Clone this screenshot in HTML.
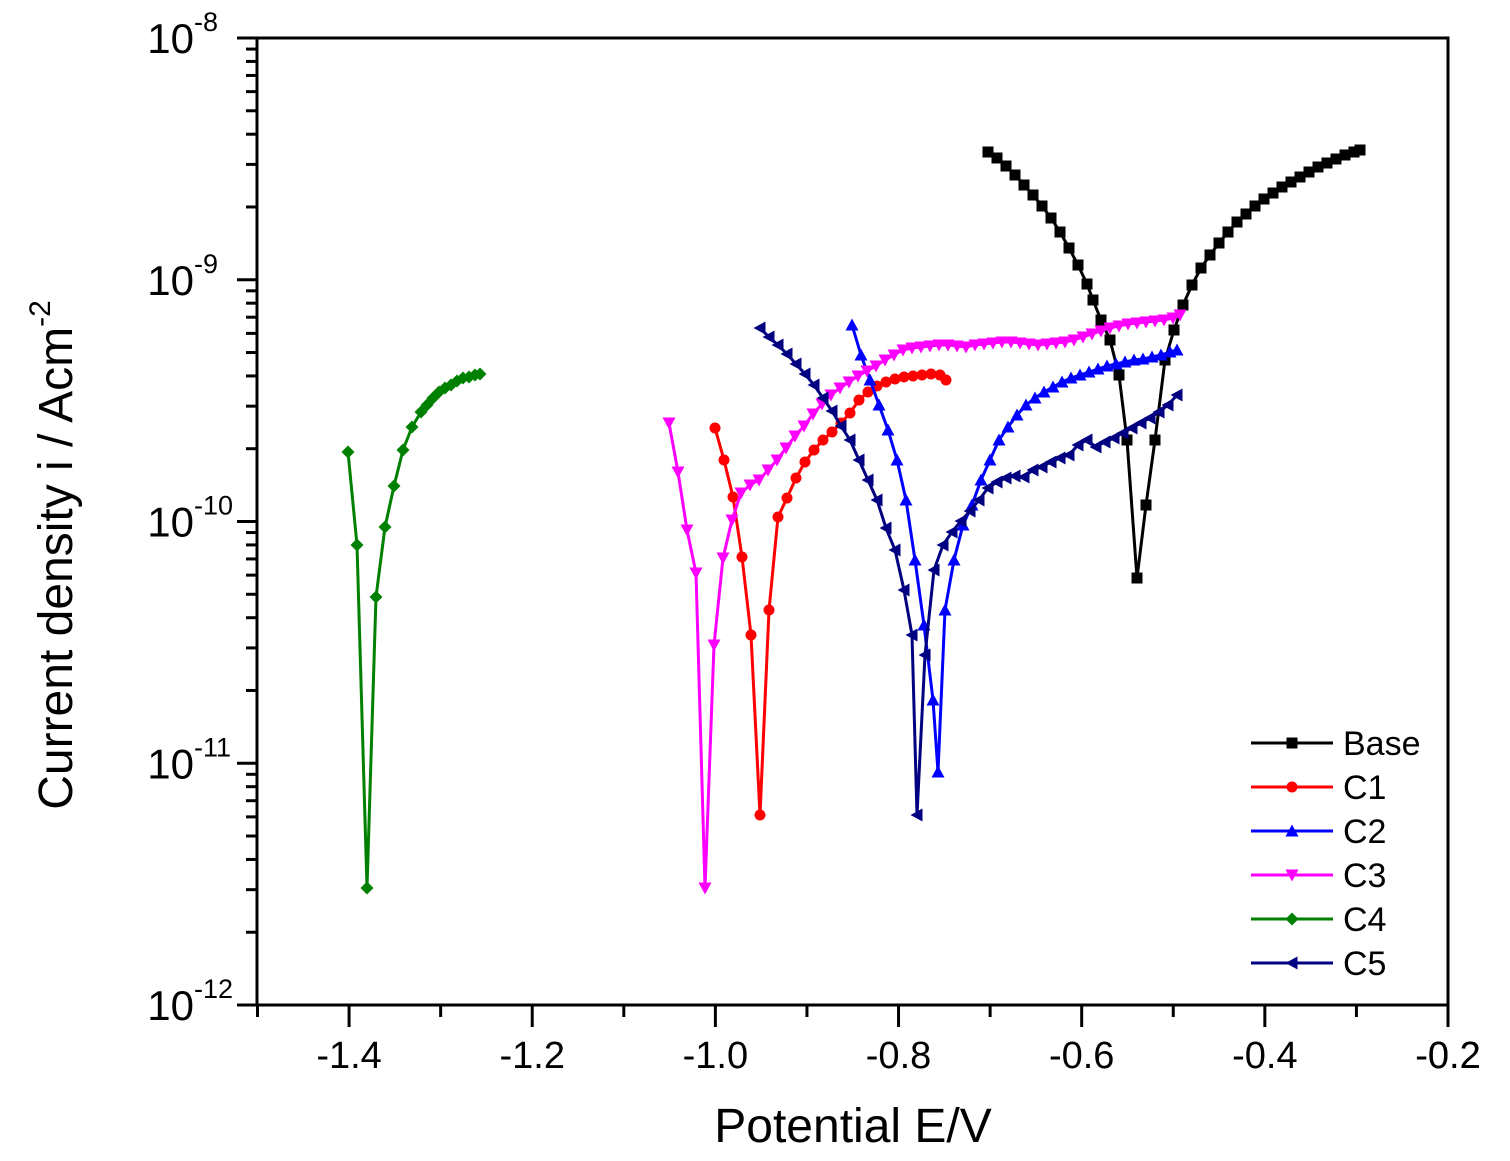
<!DOCTYPE html>
<html><head><meta charset="utf-8"><style>
html,body{margin:0;padding:0;background:#fff;}
svg{display:block;font-family:"Liberation Sans",Arial,sans-serif;}
</style></head><body>
<svg id="s" width="1510" height="1161" viewBox="0 0 1510 1161" xmlns="http://www.w3.org/2000/svg">
<rect width="1510" height="1161" fill="#fff"/>
<g id="axes" stroke="#000" stroke-width="3" fill="none">
<rect x="257" y="38" width="1191" height="967"/>
</g>
<g id="ticks" stroke="#000" stroke-width="3"></g>
<g id="labels" fill="#000"></g>
<g id="series"></g>
<text x="853" y="1142" font-size="48" text-anchor="middle">Potential E/V</text>
<text transform="translate(72,555) rotate(-90)" font-size="48" text-anchor="middle">Current density i / Acm<tspan font-size="30" dy="-22">-2</tspan></text>
<g id="legend" font-size="34"></g>
</svg>
<script>
const NS="http://www.w3.org/2000/svg";
function el(p,t,a,txt){const e=document.createElementNS(NS,t);for(const k in a)e.setAttribute(k,a[k]);if(txt!==undefined)e.textContent=txt;p.appendChild(e);return e;}
const T=document.getElementById('ticks'),L=document.getElementById('labels');
const X=v=>257.5+(v+1.5)/1.3*1190.5;
const Y=d=>1005-(d+12)*241.75;
for(let i=0;i<=13;i++){const v=-1.5+i*0.1;const x=X(v);const maj=i%2==1;
 el(T,'line',{x1:x,y1:1005,x2:x,y2:1005+(maj?22:12)});
 if(maj) el(L,'text',{x:x,y:1068,'text-anchor':'middle','font-size':'38'},v.toFixed(1));}
el(L,'text',{x:1448,y:1068,'text-anchor':'middle','font-size':'38'},'-0.2');
el(T,'line',{x1:X(-0.2),y1:1005,x2:X(-0.2),y2:1027});
for(let d=-12;d<=-8;d++){const y=Y(d);el(T,'line',{x1:237,y1:y,x2:257,y2:y});
 el(L,'text',{x:194,y:y+15,'text-anchor':'end','font-size':'42'},'10');
 el(L,'text',{x:194,y:y-7,'font-size':'27'},String(d));
 if(d<-8)for(let m=2;m<=9;m++){const yy=Y(d+Math.log10(m));el(T,'line',{x1:246,y1:yy,x2:257,y2:yy});}}
const S=document.getElementById('series');
function marker(g,type,x,y,c){const r=5.5;
 if(type=='sq')el(g,'rect',{x:x-r,y:y-r,width:2*r,height:2*r,fill:c});
 else if(type=='ci')el(g,'circle',{cx:x,cy:y,r:r,fill:c});
 else if(type=='up')el(g,'polygon',{points:`${x},${y-r-1} ${x-r-1},${y+r} ${x+r+1},${y+r}`,fill:c});
 else if(type=='dn')el(g,'polygon',{points:`${x},${y+r+1} ${x-r-1},${y-r} ${x+r+1},${y-r}`,fill:c});
 else if(type=='di')el(g,'polygon',{points:`${x},${y-r-1} ${x+r+1},${y} ${x},${y+r+1} ${x-r-1},${y}`,fill:c});
 else if(type=='le')el(g,'polygon',{points:`${x-r-1},${y} ${x+r},${y-r-1} ${x+r},${y+r+1}`,fill:c});}
function series(pts,c,type){const g=el(S,'g',{});
 el(g,'polyline',{points:pts.map(p=>p.join(',')).join(' '),fill:'none',stroke:c,'stroke-width':3,'stroke-linejoin':'round'});
 pts.forEach(p=>marker(g,type,p[0],p[1],c));}
const base=[[988,152],[997,158],[1006,166],[1015,175],[1024,185],[1033,195],[1042,206],[1051,218],[1060,232],[1069,248],[1078,265],[1087,284],[1093,300],[1101,320],[1110,340],[1119,375],[1127,440],[1137,578],[1146,505],[1155,440],[1165,360],[1174,330],[1183,305],[1192,285],[1201,268],[1210,255],[1219,243],[1228,232],[1237,222],[1246,214],[1255,206],[1264,199],[1273,193],[1282,187],[1291,182],[1300,177],[1309,172],[1318,167],[1327,163],[1336,159],[1345,155],[1354,152],[1360,150]];
const c1=[[715,428],[724,460],[733,497],[742,557],[751,635],[760,815],[769,610],[778,517],[787,498],[796,478],[805,462],[814,450],[823,440],[832,432],[841,423],[850,413],[859,400],[868,392],[877,386],[886,382],[895,379],[904,377],[913,376],[922,375],[931,374],[940,375],[946,380]];
const c2=[[852,325],[861,355],[870,380],[879,405],[888,430],[897,460],[906,500],[915,560],[924,625],[933,700],[938,772],[945,610],[954,560],[963,525],[972,505],[981,480],[990,460],[999,440],[1008,427],[1017,415],[1026,405],[1035,398],[1044,392],[1053,387],[1062,382],[1071,378],[1080,375],[1089,372],[1098,369],[1107,366],[1116,364],[1125,362],[1134,360],[1143,359],[1152,357],[1161,355],[1170,352],[1177,350]];
const c3=[[669,423],[678,472],[687,530],[696,573],[705,888],[714,645],[723,558],[732,520],[741,493],[750,485],[759,480],[768,470],[777,460],[786,448],[795,436],[804,426],[813,414],[822,404],[831,395],[840,388],[849,382],[858,376],[867,371],[876,366],[885,360],[894,355],[903,350],[912,348],[921,347],[930,346],[939,345],[948,345],[957,346],[966,347],[975,345],[984,344],[993,343],[1002,342],[1011,342],[1020,343],[1029,344],[1038,345],[1047,344],[1056,343],[1065,342],[1074,340],[1083,337],[1092,334],[1101,331],[1110,328],[1119,326],[1128,324],[1137,323],[1146,322],[1155,321],[1164,320],[1173,318],[1180,315]];
const c4=[[348,452],[357,545],[367,888],[376,597],[385,527],[394,486],[403,450],[412,427],[421,412],[427,405],[433,398],[439,392],[445,388],[451,385],[457,381],[463,378],[469,377],[475,375],[480,374]];
const c5=[[760,328],[769,337],[778,345],[787,354],[796,364],[805,374],[814,385],[823,398],[832,411],[841,426],[850,440],[859,460],[868,480],[877,500],[886,528],[895,550],[904,590],[912,635],[917,815],[925,655],[934,570],[943,545],[952,532],[961,521],[970,511],[979,500],[988,488],[997,482],[1006,478],[1015,476],[1024,477],[1033,470],[1042,467],[1051,462],[1060,458],[1069,455],[1078,445],[1087,440],[1096,447],[1105,442],[1114,438],[1123,433],[1132,428],[1141,423],[1150,418],[1159,412],[1168,405],[1177,395]];
series(base,'#000','sq');series(c1,'#ff0000','ci');series(c2,'#0000ff','up');
series(c3,'#ff00ff','dn');series(c4,'#008000','di');series(c5,'#000080','le');
const Lg=document.getElementById('legend');
[['Base','#000','sq'],['C1','#ff0000','ci'],['C2','#0000ff','up'],['C3','#ff00ff','dn'],['C4','#008000','di'],['C5','#000080','le']].forEach((s,i)=>{
 const y=743+i*44;el(Lg,'line',{x1:1251,y1:y,x2:1333,y2:y,stroke:s[1],'stroke-width':3});
 marker(Lg,s[2],1292,y,s[1]);el(Lg,'text',{x:1343,y:y+12},s[0]);});
</script>
</body></html>
